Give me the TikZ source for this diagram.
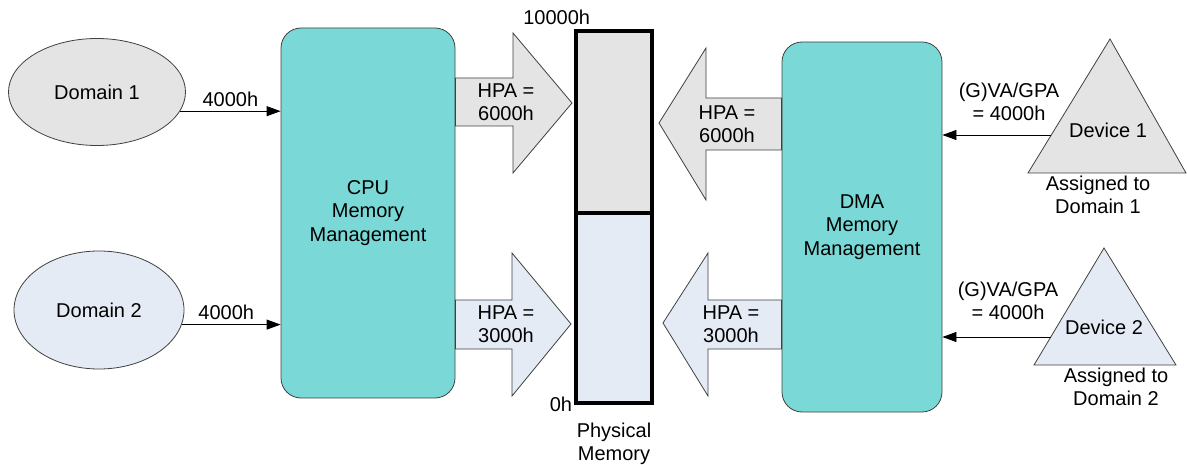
\documentclass[tikz,border=0pt]{standalone}
\usepackage{fontspec}
\setmainfont{Liberation Sans}
\usetikzlibrary{arrows.meta,shapes.geometric}
\definecolor{mmuteal}{RGB}{122,217,215}
\definecolor{memgray}{RGB}{228,228,228}
\definecolor{memblue}{RGB}{229,235,245}
\begin{document}
\begin{tikzpicture}[x=1pt, y=-1pt, >={Triangle[length=14pt,width=10pt]},
    font=\fontsize{20}{23.5}\selectfont,
    mmu/.style={draw=black!75, fill=mmuteal, rounded corners=20pt, line width=0.8pt, align=center},
    dom/.style={ellipse, draw=black!75, line width=0.8pt},
    blk/.style={draw=black!75, line width=0.8pt, line join=miter},
    lbl/.style={align=center, inner sep=0pt}]
    \useasboundingbox (0,0) rectangle (1187,465);
    % Domains
    \node[dom, fill=memgray, minimum width=177pt, minimum height=107pt] (dom1) at (97,92) {Domain 1};
    \node[dom, fill=memblue, minimum width=170pt, minimum height=118pt] (dom2) at (99,310) {Domain 2};
    % MMU boxes
    \node[mmu, minimum width=174pt, minimum height=370pt] (cpu) at (368,213) {CPU\\Memory\\Management};
    \node[mmu, minimum width=160pt, minimum height=370pt] (dma) at (862,227) {DMA\\Memory\\Management};
    % Physical memory
    \node[draw, fill=memgray, line width=3.5pt, minimum width=76pt, minimum height=182pt, inner sep=0pt] (memhi) at (614,122) {};
    \node[draw, fill=memblue, line width=3.5pt, minimum width=76pt, minimum height=190pt, inner sep=0pt] (memlo) at (614,308) {};
    \node[lbl, anchor=south east] (top) at (memhi.north west) [xshift=16pt, yshift=4pt] {10000h};
    \node[lbl, anchor=east] (bot) at (memlo.south west) [xshift=-2pt] {0h};
    \node[lbl, below=18pt] (phys) at (memlo.south) {Physical\\Memory};
    % Block arrows to memory
    \draw[blk, fill=memgray] (cpu.east |- 0,78) -- (513,78) -- (513,33) -- (572,103) -- (513,173) -- (513,126) -- (cpu.east |- 0,126) -- cycle;
    \draw[blk, fill=memblue] (cpu.east |- 0,300) -- (512,300) -- (512,253) -- (571,324) -- (512,396) -- (512,349) -- (cpu.east |- 0,349) -- cycle;
    \draw[blk, fill=memgray] (dma.west |- 0,98) -- (706,98) -- (706,48) -- (659,123) -- (706,200) -- (706,150) -- (dma.west |- 0,150) -- cycle;
    \draw[blk, fill=memblue] (dma.west |- 0,300) -- (708,300) -- (708,253) -- (663,323) -- (708,396) -- (708,349) -- (dma.west |- 0,349) -- cycle;
    \node[lbl] (hpa1) at (506,102) {HPA =\\6000h};
    \node[lbl] (hpa2) at (506,324) {HPA =\\3000h};
    \node[lbl] (hpa3) at (727,124) {HPA =\\6000h};
    \node[lbl] (hpa4) at (731,324) {HPA =\\3000h};
    % Devices
    \draw[blk, fill=memgray] (1110,39) -- (1186,173) -- (1028,173) -- cycle;
    \draw[blk, fill=memblue] (1104,248) -- (1176,365) -- (1034,365) -- cycle;
    \node[lbl] (dev1) at (1108,130) {Device 1};
    \node[lbl] (dev2) at (1104,327) {Device 2};
    \node[lbl] (as1) at (1098,195) {Assigned to\\Domain 1};
    \node[lbl] (as2) at (1116,387) {Assigned to\\Domain 2};
    % Address arrows
    \draw[->, line width=0.8pt] (dom1.-13) -- (dom1.-13 -| cpu.west) node[pos=0.5, above=1pt] {4000h};
    \draw[->, line width=0.8pt] (dom2.-10) -- (dom2.-10 -| cpu.west) node[pos=0.45, above=1pt] {4000h};
    \coordinate (d1) at (1051,135);
    \coordinate (d2) at (1051,337);
    \draw[->, line width=0.8pt] (d1) -- (d1 -| dma.east);
    \draw[->, line width=0.8pt] (d2) -- (d2 -| dma.east);
    \node[lbl] (gva1) at (1009,102) {(G)VA/GPA\\= 4000h};
    \node[lbl] (gva2) at (1008,301) {(G)VA/GPA\\= 4000h};
\end{tikzpicture}
\end{document}
